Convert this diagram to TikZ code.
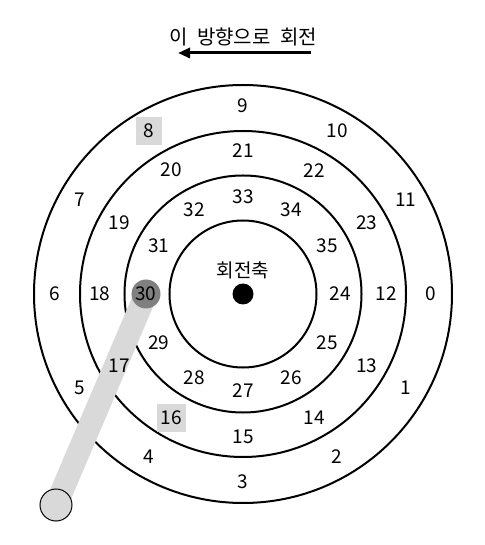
\documentclass[tikz,border=0pt]{standalone}
\usepackage{fontspec}
\setmainfont{Noto Sans CJK KR}
\usetikzlibrary{arrows.meta}
\definecolor{lightgr}{RGB}{217,217,217}
\definecolor{darkgr}{RGB}{128,128,128}
\tikzset{
  num/.style={font=\fontsize{19}{22}\selectfont, inner sep=1pt},
  ring/.style={line width=2pt},
  marked/.style={num, fill=lightgr, inner sep=4pt, minimum height=28pt, minimum width=26pt},
}
\begin{document}
\begin{tikzpicture}[x=1pt,y=1pt]
\useasboundingbox (-243,-251) rectangle (241,294);
% title and direction
\node[font=\fontsize{20}{22}\selectfont] (title) at (0,257) {이\hspace{5pt} 방향으로\hspace{5pt} 회전};
\coordinate (arrR) at (68,241);
\coordinate (arrL) at (-65,241);
\draw[line width=3pt, -{Triangle[length=12pt,width=10pt]}] (arrR) -- (arrL);
% tracks
\draw[ring] (0,0) circle [radius=209];
\draw[ring] (0,0) circle [radius=163];
\draw[ring] (0,0) circle [radius=118.5];
\draw[ring] (0,0) circle [radius=73.5];
% arm
\coordinate (hub) at (180:97);
\coordinate (tip) at (-187,-211);
\draw[line width=23pt, lightgr] (hub) -- (tip);
\node[circle, draw, line width=1pt, fill=lightgr, minimum size=32pt] (knob) at (tip) {};
\node[circle, fill=darkgr, minimum size=29pt, inner sep=0pt, font=\fontsize{19}{22}\selectfont] (n30) at (hub) {30};
% spindle
\node[circle, fill, minimum size=21pt, inner sep=0pt] (axis) at (0,0) {};
\node[num] (axislbl) at (0,24) {회전축};
% outer track
\node[num] (n0) at (0:188) {0};
\node[num] (n1) at (-30:188) {1};
\node[num] (n2) at (-60:188) {2};
\node[num] (n3) at (-90:188) {3};
\node[num] (n4) at (-120:188) {4};
\node[num] (n5) at (-150:188) {5};
\node[num] (n6) at (180:188) {6};
\node[num] (n7) at (150:188) {7};
\node[marked] (n8) at (120:188) {8};
\node[num] (n9) at (90:188) {9};
\node[num] (n10) at (60:188) {10};
\node[num] (n11) at (30:188) {11};
% middle track
\node[num] (n12) at (0:143) {12};
\node[num] (n13) at (-30:143) {13};
\node[num] (n14) at (-60:143) {14};
\node[num] (n15) at (-90:143) {15};
\node[marked] (n16) at (-120:143) {16};
\node[num] (n17) at (-150:143) {17};
\node[num] (n18) at (180:143) {18};
\node[num] (n19) at (150:143) {19};
\node[num] (n20) at (120:143) {20};
\node[num] (n21) at (90:143) {21};
\node[num] (n22) at (60:143) {22};
\node[num] (n23) at (30:143) {23};
% inner track
\node[num] (n24) at (0:97) {24};
\node[num] (n25) at (-30:97) {25};
\node[num] (n26) at (-60:97) {26};
\node[num] (n27) at (-90:97) {27};
\node[num] (n28) at (-120:97) {28};
\node[num] (n29) at (-150:97) {29};
\node[num] (n31) at (150:97) {31};
\node[num] (n32) at (120:97) {32};
\node[num] (n33) at (90:97) {33};
\node[num] (n34) at (60:97) {34};
\node[num] (n35) at (30:97) {35};
\end{tikzpicture}
\end{document}
